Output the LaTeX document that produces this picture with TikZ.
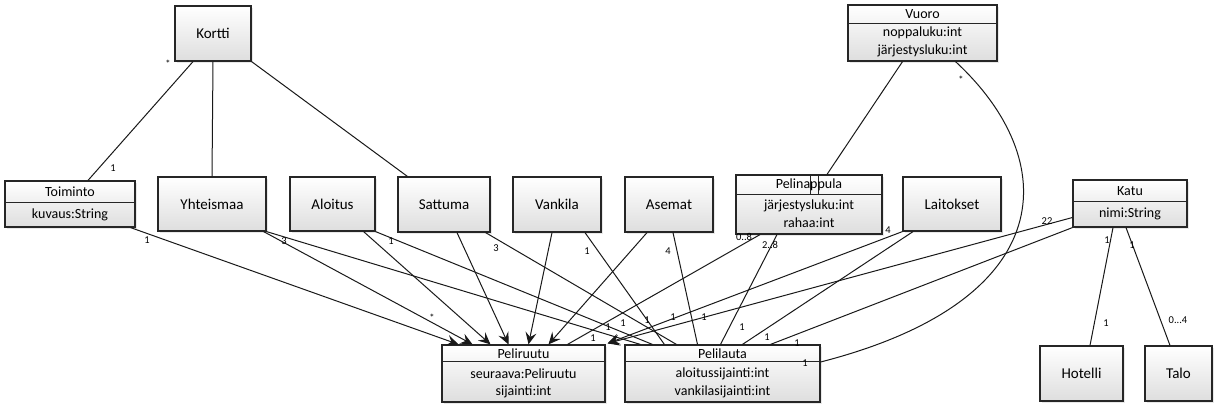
\documentclass[tikz,border=0pt]{standalone}
\usepackage{fontspec}
\setmainfont{Carlito}
\usetikzlibrary{arrows.meta,shadows}
\begin{document}
\begin{tikzpicture}[x=1pt,y=-1pt,
  box/.style={draw=black!85, line width=1.2pt, top color=white, bottom color=black!13,
    drop shadow={opacity=0.18,shadow xshift=2pt,shadow yshift=-2pt},
    inner sep=0pt, font=\fontsize{15}{17}\selectfont},
  txt/.style={inner sep=0pt, font=\fontsize{14}{16}\selectfont},
  lbl/.style={inner sep=0pt, font=\fontsize{10.5}{12}\selectfont},
  ln/.style={line width=1pt, black!90},
  arr/.style={ln, -{Stealth[length=12pt,width=11pt,inset=4.5pt]}},
  div/.style={line width=1pt, black!85}]
\useasboundingbox (0,0) rectangle (1218,408);

% ---------- boxes ----------
\node[box, minimum width=76pt, minimum height=55pt] (kortti) at (213,33.5) {Kortti};

\node[box, minimum width=149pt, minimum height=56pt] (vuoro) at (922.5,33) {};
\draw[div] ([yshift=-19pt]vuoro.north west) -- ([yshift=-19pt]vuoro.north east);
\node[txt] (vuoroT) at (922.5,14.5) {Vuoro};
\node[txt] (vuoroA) at (922.5,33) {noppaluku:int};
\node[txt] (vuoroB) at (922.5,51) {järjestysluku:int};

\node[box, minimum width=130pt, minimum height=46pt] (toim) at (70,204) {};
\draw[div] ([yshift=-22pt]toim.north west) -- ([yshift=-22pt]toim.north east);
\node[txt] (toimT) at (70,192) {Toiminto};
\node[txt] (toimA) at (70,215) {kuvaus:String};

\node[box, minimum width=108pt, minimum height=54pt] (yht) at (212,204) {Yhteismaa};
\node[box, minimum width=85pt, minimum height=54pt] (alo) at (332.5,204) {Aloitus};
\node[box, minimum width=92pt, minimum height=55pt] (satt) at (444,204.5) {Sattuma};
\node[box, minimum width=88pt, minimum height=55pt] (vank) at (557,204.5) {Vankila};
\node[box, minimum width=88pt, minimum height=55pt] (asem) at (669,204.5) {Asemat};

\node[box, minimum width=146pt, minimum height=59pt] (pel) at (809,204.5) {};
\draw[div] ([yshift=-20pt]pel.north west) -- ([yshift=-20pt]pel.north east);
\draw[div] ([xshift=1pt]pel.north) -- ([xshift=1pt,yshift=-20pt]pel.north);
\draw[div] ([xshift=9pt]pel.north) -- ([xshift=9pt,yshift=-20pt]pel.north);
\node[txt] (pelT) at (809,185) {Pelinappula};
\node[txt] (pelA) at (809,206) {järjestysluku:int};
\node[txt] (pelB) at (809,223) {rahaa:int};

\node[box, minimum width=98pt, minimum height=54pt] (lait) at (952,204) {Laitokset};

\node[box, minimum width=114pt, minimum height=47pt] (katu) at (1130,203.5) {};
\draw[div] ([yshift=-22pt]katu.north west) -- ([yshift=-22pt]katu.north east);
\node[txt] (katuT) at (1130,191) {Katu};
\node[txt] (katuA) at (1130,214) {nimi:String};

\node[box, minimum width=163pt, minimum height=57pt] (pr) at (523.5,373.5) {};
\draw[div] ([yshift=-17pt]pr.north west) -- ([yshift=-17pt]pr.north east);
\node[txt] (prT) at (523.5,354) {Peliruutu};
\node[txt] (prA) at (523.5,374) {seuraava:Peliruutu};
\node[txt] (prB) at (523.5,392) {sijainti:int};

\node[box, minimum width=195pt, minimum height=57pt] (pl) at (722.5,373.5) {};
\draw[div] ([yshift=-17pt]pl.north west) -- ([yshift=-17pt]pl.north east);
\node[txt] (plT) at (722.5,354) {Pelilauta};
\node[txt] (plA) at (722.5,374) {aloitussijainti:int};
\node[txt] (plB) at (722.5,392) {vankilasijainti:int};

\node[box, minimum width=83pt, minimum height=55pt] (hot) at (1081.5,373.5) {Hotelli};
\node[box, minimum width=67pt, minimum height=55pt] (talo) at (1178.5,373.5) {Talo};

% ---------- connectors ----------
% Kortti
\draw[ln] ([xshift=-20pt]kortti.south) -- ([xshift=18pt]toim.north);
\draw[ln] (kortti.south) -- (yht.north);
\draw[ln] (kortti.south east) -- ([xshift=10pt]satt.north west);
% Vuoro
\draw[ln] ([xshift=-20pt]vuoro.south) -- ([xshift=18pt]pel.north);
\draw[ln] ([xshift=33pt]vuoro.south) .. controls (1062,160) and (1062,300) .. ([yshift=11.5pt]pl.east);
% Katu
\draw[ln] ([xshift=-17pt]katu.south) -- ([xshift=8.5pt]hot.north);
\draw[ln] ([xshift=-4pt]katu.south) -- ([xshift=-8.5pt]talo.north);
% to Peliruutu
\draw[arr] ([xshift=-5pt]toim.south east) -- ([xshift=-65pt]pr.north);
\draw[arr] ([xshift=-3pt]yht.south east) -- ([xshift=-51pt]pr.north);
\draw[arr] ([xshift=-12pt]alo.south east) -- ([xshift=-33pt]pr.north);
\draw[arr] ([xshift=13pt]satt.south) -- ([xshift=-15pt]pr.north);
\draw[arr] ([xshift=-5pt]vank.south) -- ([xshift=5pt]pr.north);
\draw[arr] ([xshift=-22pt]asem.south) -- ([xshift=25pt]pr.north);
\draw[ln] ([xshift=-49pt]pel.south) -- ([xshift=44pt]pr.north);
\draw[arr] (lait.south west) -- ([xshift=2pt,yshift=1pt]pr.north east);
\draw[arr] ([yshift=-14pt]katu.west) -- ([xshift=2pt,yshift=1pt]pr.north east);
% to Pelilauta
\draw[ln] (yht.south east) -- ([xshift=16pt]pl.north west);
\draw[ln] (alo.south east) -- ([xshift=28pt]pl.north west);
\draw[ln] ([xshift=-5pt]satt.south east) -- ([xshift=52pt]pl.north west);
\draw[ln] ([xshift=28pt]vank.south) -- ([xshift=40pt]pl.north west);
\draw[ln] ([xshift=4pt]asem.south) -- ([xshift=-25pt]pl.north);
\draw[ln] ([xshift=-32pt]pel.south) -- ([xshift=-2pt]pl.north);
\draw[ln] ([xshift=-39pt]lait.south) -- ([xshift=20pt]pl.north);
\draw[ln] (katu.south west) -- ([xshift=48pt]pl.north);

% ---------- multiplicities ----------
\node[lbl] (m1) at (168,64) {*};
\node[lbl] (m2) at (113,168) {1};
\node[lbl] (m3) at (961,80) {*};
\node[lbl] (m4) at (805,363) {1};
\node[lbl] (m5) at (1107,240) {1};
\node[lbl] (m6) at (1106,323) {1};
\node[lbl] (m7) at (1132,245) {1};
\node[lbl] (m8) at (1178,320) {0...4};
\node[lbl] (m9) at (147,240) {1};
\node[lbl] (m10) at (284,241) {3};
\node[lbl] (m11) at (432,318) {*};
\node[lbl] (m12) at (391,241) {1};
\node[lbl] (m13) at (496,248) {3};
\node[lbl] (m14) at (587,251) {1};
\node[lbl] (m15) at (668,251) {4};
\node[lbl] (m16) at (744,237) {0..8};
\node[lbl] (m17) at (770,245) {2..8};
\node[lbl] (m18) at (888,230) {4};
\node[lbl] (m19) at (1047,221) {22};
\node[lbl] (m20) at (593,338) {1};
\node[lbl] (m21) at (608,327) {1};
\node[lbl] (m22) at (623,323) {1};
\node[lbl] (m23) at (647,320) {1};
\node[lbl] (m24) at (673,317) {1};
\node[lbl] (m25) at (704,317) {1};
\node[lbl] (m26) at (742,327) {1};
\node[lbl] (m27) at (767,337) {1};
\node[lbl] (m28) at (797,343) {1};
\end{tikzpicture}
\end{document}
